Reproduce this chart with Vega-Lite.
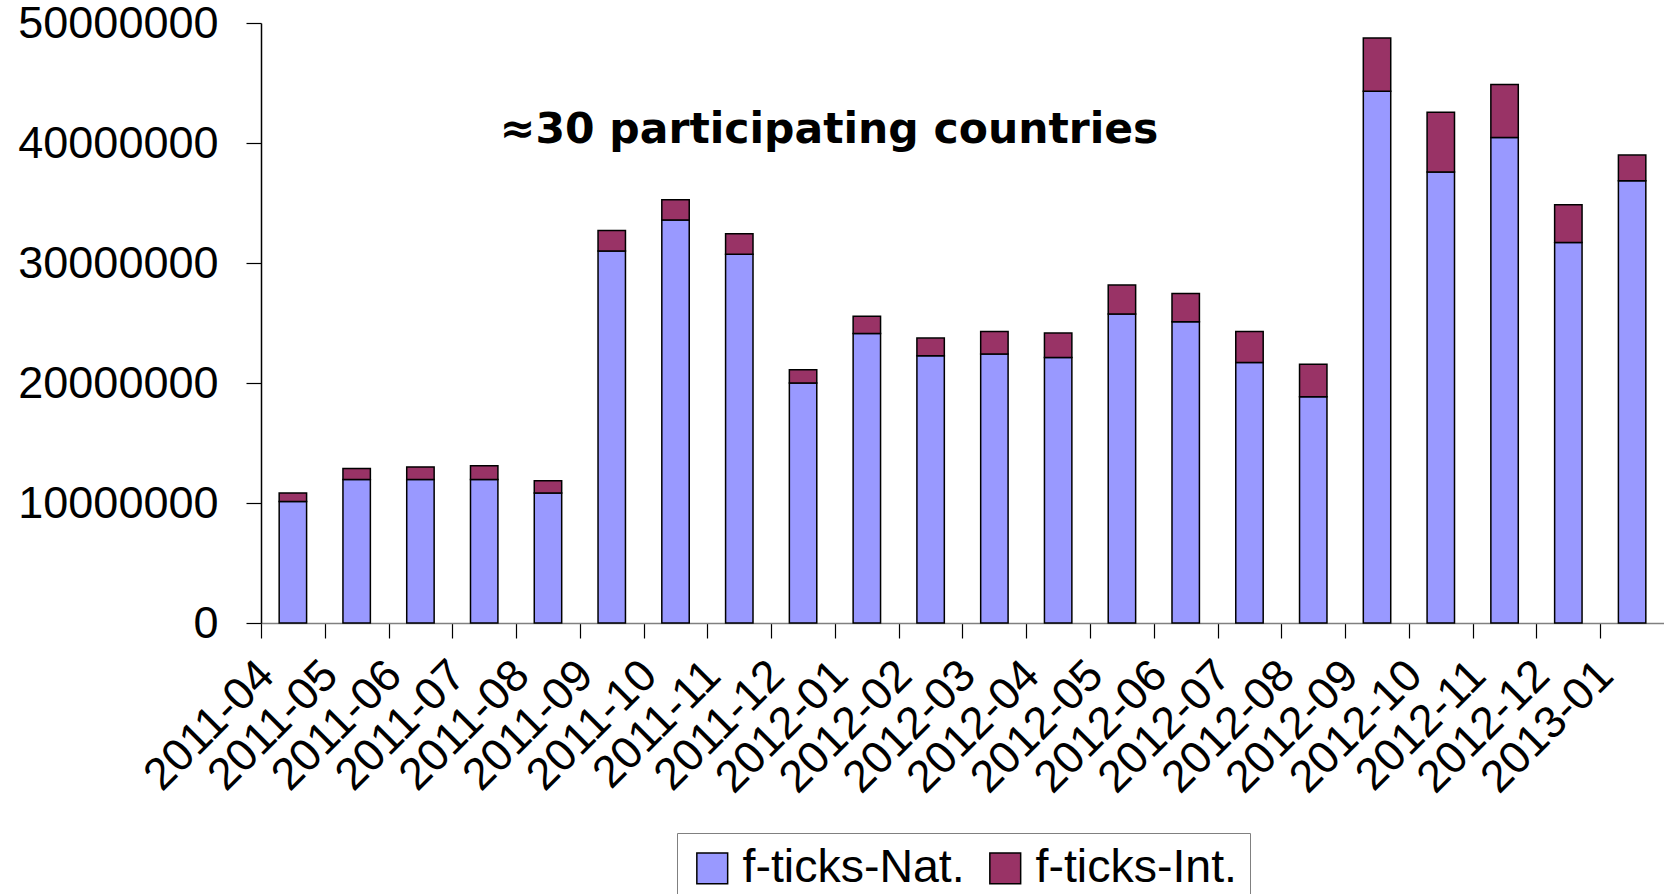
{
  "$schema": "https://vega.github.io/schema/vega-lite/v6.json",
  "autosize": {"type": "none"},
  "padding": {"left": 261, "top": 23, "right": 0, "bottom": 271},
  "width": 1403,
  "height": 600,
  "background": "white",
  "config": {
    "view": {"stroke": null},
    "font": "Liberation Sans"
  },
  "data": {
    "values": [
      {"month": "2011-04", "series": "f-ticks-Nat.", "value": 10130000},
      {"month": "2011-04", "series": "f-ticks-Int.", "value": 700000},
      {"month": "2011-05", "series": "f-ticks-Nat.", "value": 11960000},
      {"month": "2011-05", "series": "f-ticks-Int.", "value": 910000},
      {"month": "2011-06", "series": "f-ticks-Nat.", "value": 11960000},
      {"month": "2011-06", "series": "f-ticks-Int.", "value": 1050000},
      {"month": "2011-07", "series": "f-ticks-Nat.", "value": 11960000},
      {"month": "2011-07", "series": "f-ticks-Int.", "value": 1150000},
      {"month": "2011-08", "series": "f-ticks-Nat.", "value": 10830000},
      {"month": "2011-08", "series": "f-ticks-Int.", "value": 1020000},
      {"month": "2011-09", "series": "f-ticks-Nat.", "value": 31000000},
      {"month": "2011-09", "series": "f-ticks-Int.", "value": 1710000},
      {"month": "2011-10", "series": "f-ticks-Nat.", "value": 33590000},
      {"month": "2011-10", "series": "f-ticks-Int.", "value": 1680000},
      {"month": "2011-11", "series": "f-ticks-Nat.", "value": 30720000},
      {"month": "2011-11", "series": "f-ticks-Int.", "value": 1710000},
      {"month": "2011-12", "series": "f-ticks-Nat.", "value": 19990000},
      {"month": "2011-12", "series": "f-ticks-Int.", "value": 1120000},
      {"month": "2012-01", "series": "f-ticks-Nat.", "value": 24120000},
      {"month": "2012-01", "series": "f-ticks-Int.", "value": 1440000},
      {"month": "2012-02", "series": "f-ticks-Nat.", "value": 22270000},
      {"month": "2012-02", "series": "f-ticks-Int.", "value": 1470000},
      {"month": "2012-03", "series": "f-ticks-Nat.", "value": 22410000},
      {"month": "2012-03", "series": "f-ticks-Int.", "value": 1890000},
      {"month": "2012-04", "series": "f-ticks-Nat.", "value": 22120000},
      {"month": "2012-04", "series": "f-ticks-Int.", "value": 2040000},
      {"month": "2012-05", "series": "f-ticks-Nat.", "value": 25740000},
      {"month": "2012-05", "series": "f-ticks-Int.", "value": 2420000},
      {"month": "2012-06", "series": "f-ticks-Nat.", "value": 25110000},
      {"month": "2012-06", "series": "f-ticks-Int.", "value": 2340000},
      {"month": "2012-07", "series": "f-ticks-Nat.", "value": 21700000},
      {"month": "2012-07", "series": "f-ticks-Int.", "value": 2600000},
      {"month": "2012-08", "series": "f-ticks-Nat.", "value": 18860000},
      {"month": "2012-08", "series": "f-ticks-Int.", "value": 2700000},
      {"month": "2012-09", "series": "f-ticks-Nat.", "value": 44320000},
      {"month": "2012-09", "series": "f-ticks-Int.", "value": 4420000},
      {"month": "2012-10", "series": "f-ticks-Nat.", "value": 37590000},
      {"month": "2012-10", "series": "f-ticks-Int.", "value": 4980000},
      {"month": "2012-11", "series": "f-ticks-Nat.", "value": 40460000},
      {"month": "2012-11", "series": "f-ticks-Int.", "value": 4420000},
      {"month": "2012-12", "series": "f-ticks-Nat.", "value": 31700000},
      {"month": "2012-12", "series": "f-ticks-Int.", "value": 3150000},
      {"month": "2013-01", "series": "f-ticks-Nat.", "value": 36850000},
      {"month": "2013-01", "series": "f-ticks-Int.", "value": 2140000}
    ]
  },
  "layer": [
    {
      "mark": {"type": "bar", "stroke": "black", "strokeWidth": 1.5},
      "encoding": {
        "x": {
          "field": "month",
          "type": "ordinal",
          "sort": null,
          "scale": {"paddingInner": 0.57, "paddingOuter": 0.285},
          "axis": {
            "title": null,
            "labelAngle": -45,
            "labelAlign": "right",
            "labelBaseline": "bottom",
            "labelFontSize": 45,
            "labelFont": "Liberation Sans",
            "labelColor": "black",
            "labelPadding": 46,
            "labelOverlap": false,
            "labelLimit": 0,
            "tickOffset": -31.9,
            "labelOffset": 21.4,
            "tickSize": 15,
            "tickColor": "black",
            "tickWidth": 1.2,
            "domainColor": "#808080",
            "domainWidth": 1.5
          }
        },
        "y": {
          "field": "value",
          "type": "quantitative",
          "stack": "zero",
          "scale": {"domain": [0, 50000000], "nice": false},
          "axis": {
            "title": null,
            "values": [0, 10000000, 20000000, 30000000, 40000000, 50000000],
            "format": "d",
            "grid": false,
            "labelFontSize": 45,
            "labelFont": "Liberation Sans",
            "labelColor": "black",
            "labelPadding": 28,
            "labelLimit": 0,
            "tickSize": 15,
            "tickColor": "black",
            "tickWidth": 1.2,
            "domainColor": "black",
            "domainWidth": 1.5
          }
        },
        "color": {
          "field": "series",
          "type": "nominal",
          "scale": {"domain": ["f-ticks-Nat.", "f-ticks-Int."], "range": ["#9999FF", "#993366"]},
          "legend": {
            "title": null,
            "orient": "none",
            "legendX": 416,
            "legendY": 810,
            "direction": "horizontal",
            "symbolType": "square",
            "symbolSize": 950,
            "symbolStrokeColor": "black",
            "symbolStrokeWidth": 1.5,
            "symbolOpacity": 1,
            "labelFont": "Liberation Sans",
            "labelFontSize": 46.5,
            "labelColor": "black",
            "labelOffset": 7,
            "columnPadding": 17,
            "padding": 12,
            "strokeColor": "#808080",
            "fillColor": "white",
            "labelLimit": 400
          }
        },
        "order": {"field": "series", "sort": "descending"}
      }
    },
    {
      "data": {"values": [{"note": "≈30 participating countries"}]},
      "mark": {
        "type": "text",
        "font": "DejaVu Sans",
        "fontWeight": "bold",
        "fontSize": 42.5,
        "align": "center",
        "baseline": "alphabetic",
        "color": "black",
        "dx": 26
      },
      "encoding": {
        "x": {"datum": "2011-12"},
        "y": {"datum": 40000000},
        "text": {"field": "note"}
      }
    }
  ]
}
